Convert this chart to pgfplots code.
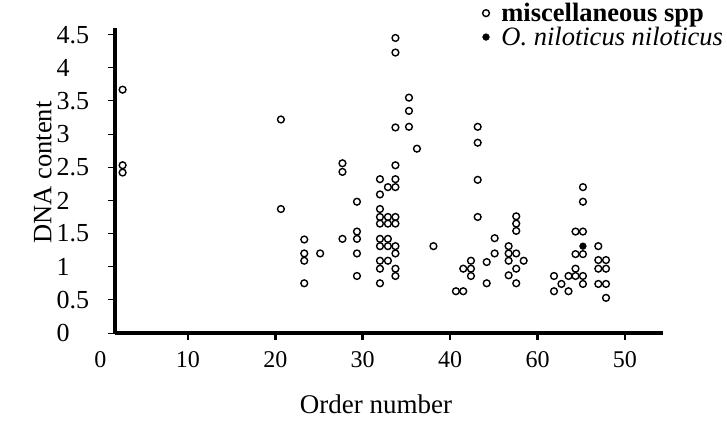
\documentclass[border=0pt]{standalone}
\usepackage{fontspec}
\setmainfont{Liberation Serif}
\usepackage{pgfplots}
\pgfplotsset{compat=1.18}

% DNA content of miscellaneous species against order number
\pgfplotstableread{
x y
2.53 3.67
2.53 2.53
2.53 2.42
20.64 3.22
20.64 1.87
23.31 1.41
23.31 1.20
23.31 1.09
23.31 0.75
25.13 1.20
27.68 2.56
27.68 2.43
27.68 1.42
29.34 1.98
29.34 1.53
29.34 1.42
29.34 1.20
29.34 0.86
31.97 2.32
31.97 2.09
31.97 1.87
31.97 1.75
31.97 1.65
31.97 1.42
31.97 1.31
31.97 1.09
31.97 0.97
31.97 0.75
32.88 2.20
32.88 1.75
32.88 1.65
32.88 1.42
32.88 1.31
32.88 1.09
33.74 4.45
33.74 4.23
33.74 3.10
33.74 2.53
33.74 2.32
33.74 2.20
33.74 1.75
33.74 1.65
33.74 1.31
33.74 1.20
33.74 0.97
33.74 0.86
35.29 3.55
35.29 3.35
35.29 3.11
36.20 2.78
38.09 1.31
40.66 0.63
41.50 0.97
41.50 0.63
42.38 1.09
42.38 0.97
42.38 0.86
43.15 3.11
43.15 2.87
43.15 2.31
43.15 1.75
44.18 1.07
44.18 0.75
45.09 1.43
45.09 1.20
46.69 1.31
46.69 1.20
46.69 1.09
46.69 0.87
47.56 1.76
47.56 1.65
47.56 1.54
47.56 1.20
47.56 0.97
47.56 0.75
48.41 1.09
51.88 0.86
51.88 0.63
52.73 0.74
53.54 0.86
53.54 0.63
54.34 1.53
54.34 1.19
54.34 0.97
54.34 0.86
55.19 2.20
55.19 1.98
55.19 1.53
55.19 1.19
55.19 0.86
55.19 0.74
56.95 1.31
56.95 1.10
56.95 0.97
56.95 0.74
57.83 1.10
57.83 0.97
57.83 0.74
57.83 0.53
}\misc

\begin{document}
\begin{tikzpicture}
\useasboundingbox (-115pt,-91pt) rectangle (612pt,333pt);
\begin{axis}[
    width=548pt,
    height=305pt,
    scale only axis,
    xmin=1.66, xmax=64.35,
    ymin=0, ymax=4.6,
    axis x line=bottom,
    axis y line=left,
    axis line style={-, line width=3.2pt},
    tick align=outside,
    major tick length=7pt,
    xtick={10,20,30,40,50,60},
    xticklabels={10,20,30,40,60,50},
    ytick={0,0.5,...,4.5},
    yticklabels={0,0.5,1,1.5,2,2.5,3,3.5,4,4.5},
    x tick style={line width=2.6pt, black},
    y tick style={line width=1pt, black},
    xticklabel style={font=\fontsize{24}{28}\selectfont, yshift=-8pt},
    yticklabel style={font=\fontsize{26}{28}\selectfont, anchor=west, xshift=-55pt},
    xlabel={Order number},
    ylabel={DNA content},
    xlabel style={font=\fontsize{27}{30}\selectfont, yshift=-20pt, xshift=-13pt},
    ylabel style={font=\fontsize{26.5}{30}\selectfont, yshift=-2pt, xshift=8pt},
    clip=false,
    legend style={draw=none, fill=none, at={(0.665,1.095)}, anchor=north west,
        font=\fontsize{26.5}{28}\selectfont, row sep=0pt},
    legend cell align=left,
]
\addplot[only marks, mark=o, mark size=3.4pt, mark options={line width=1.4pt, black}] table {\misc};
\addlegendentry{\hspace*{10pt}\textbf{miscellaneous spp}}
\addplot[only marks, mark=*, mark size=3.4pt, black] coordinates {(55.19,1.31)};
\addlegendentry{\hspace*{10pt}\textit{O. niloticus niloticus}}
\node[anchor=north, font=\fontsize{24}{28}\selectfont, yshift=-15pt] at (axis cs:0,0) {0};
\end{axis}
\end{tikzpicture}
\end{document}
